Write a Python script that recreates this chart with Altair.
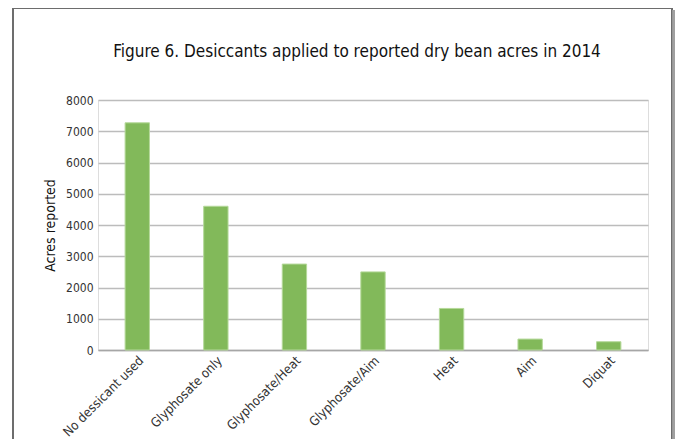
import altair as alt
import pandas as pd

categories = ["No dessicant used", "Glyphosate only", "Glyphosate/Heat",
              "Glyphosate/Aim", "Heat", "Aim", "Diquat"]
acres = [7270, 4600, 2750, 2500, 1330, 350, 265]
title_text = "Figure 6. Desiccants applied to reported dry bean acres in 2014"

df = pd.DataFrame({"cat": categories, "acres": acres})

FONT = "DejaVu Sans Condensed, Liberation Sans, sans-serif"

bars = alt.Chart(df).mark_bar(color="#82B95A", stroke="#b5d99a", strokeWidth=1).encode(
    x=alt.X("cat:N", sort=categories, title=None,
            scale=alt.Scale(paddingInner=0.69, paddingOuter=0.345),
            axis=alt.Axis(labelAngle=-45, labelAlign="right", labelBaseline="top",
                          labelFontSize=13, labelColor="#333333", labelFont=FONT,
                          ticks=False, domainColor="#a6a6a6", domainWidth=1.5,
                          labelPadding=4)),
    y=alt.Y("acres:Q", title="Acres reported",
            scale=alt.Scale(domain=[0, 8000]),
            axis=alt.Axis(values=list(range(0, 8001, 1000)), format="d", grid=True,
                          gridColor="#bcbcbc", gridWidth=1.5, domain=False, ticks=False,
                          labelFontSize=12, labelColor="#333333", labelFont=FONT,
                          labelPadding=5, titleFont=FONT, titleFontSize=14,
                          titleFontWeight="normal", titleColor="#111111",
                          titlePadding=8)),
)

frame = alt.Chart(df).mark_rect(fill=None, stroke="#6e6e6e", strokeWidth=1.5).encode(
    x=alt.value(-85), x2=alt.value(574), y=alt.value(-92), y2=alt.value(360)
)
shadow = alt.Chart(df).mark_rule(color="#a0a0a0", strokeWidth=2.5).encode(
    x=alt.value(576), y=alt.value(-90), y2=alt.value(360)
)
title = alt.Chart(pd.DataFrame({"t": [title_text]})).mark_text(
    font=FONT, fontSize=17, color="#111111", align="center", baseline="middle"
).encode(text="t:N", x=alt.value(259), y=alt.value(-48))

chart = alt.layer(frame, shadow, title, bars).properties(
    width=550, height=250,
    autosize=alt.AutoSizeParams(type="none"),
    padding={"left": 90, "top": 92, "right": 27, "bottom": 89},
).configure_view(stroke=None).configure(background="white")

chart.save("out.html", embed_options={"renderer": "svg", "actions": False})
